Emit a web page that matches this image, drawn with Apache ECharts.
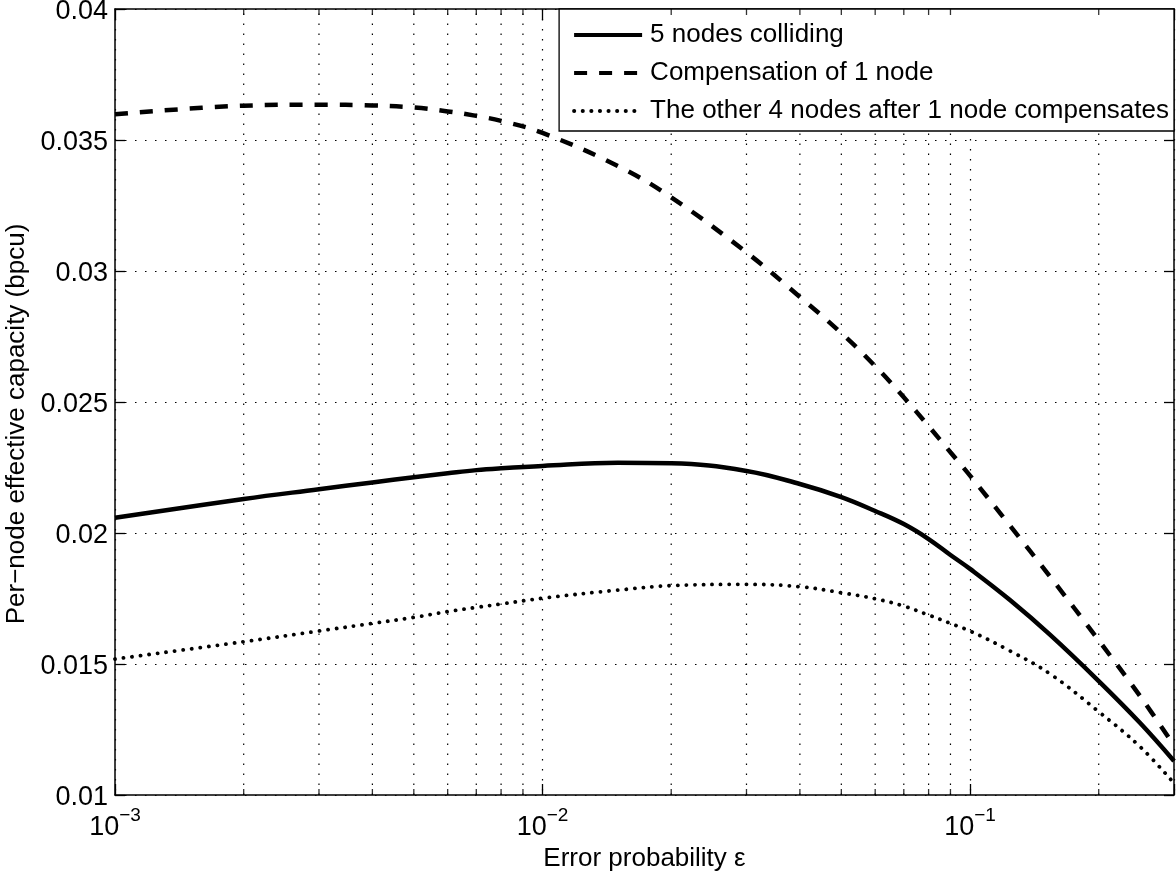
<!DOCTYPE html>
<html><head><meta charset="utf-8">
<script src="https://cdn.jsdelivr.net/npm/echarts@6/dist/echarts.min.js"></script>
<style>html,body{margin:0;padding:0;background:#fff}#c{width:1176px;height:874px}</style>
</head><body><div id="c"></div>
<script>
// ---- data ----
const eps = [0.001,0.002,0.003,0.004,0.005,0.006,0.007,0.008,0.01,0.015,0.02,0.03,0.04,0.05,0.06,0.07,0.08,0.09,0.1,0.124,0.154,0.2,0.25,0.3];
const colliding = [0.02058,0.0213,0.02167,0.02193,0.02213,0.02228,0.0224,0.02247,0.02256,0.02268,0.02266,0.02237,0.02187,0.02137,0.02084,0.02034,0.01977,0.01916,0.01863,0.01744,0.01611,0.01435,0.01275,0.0113];
const compensation = [0.03598,0.03631,0.03635,0.03632,0.03624,0.03609,0.03592,0.03573,0.03527,0.03401,0.03281,0.03071,0.02901,0.02763,0.02637,0.02518,0.02408,0.02308,0.02219,0.02028,0.01833,0.0159,0.01377,0.01189];
const others = [0.01519,0.01585,0.01626,0.01655,0.01678,0.017,0.01716,0.01729,0.01751,0.01782,0.01799,0.01804,0.01795,0.01772,0.01749,0.01721,0.01687,0.01655,0.01626,0.0155,0.01462,0.01318,0.01184,0.01045];
const seriesNames = ['5 nodes colliding','Compensation of 1 node','The other 4 nodes after 1 node compensates'];
const xTickValues = [0.001,0.01,0.1];
const xTickExps = ['−3','−2','−1'];
const xMinor = [0.002,0.003,0.004,0.005,0.006,0.007,0.008,0.009,0.02,0.03,0.04,0.05,0.06,0.07,0.08,0.09,0.2];
const xMin = 0.001, xMax = 0.3;
const yMin = 0.01, yMax = 0.04, yStep = 0.005;
const xName = 'Error probability ε';
const yName = 'Per−node effective capacity (bpcu)';

const FONT = '"Liberation Sans", Arial, Helvetica, sans-serif';
const zip = ys => eps.map((x,i)=>[x, ys[i]]);
const dotted = {type:[1.5,8.5], color:'#000', width:1.2};

function xFmt(v){
  for (let i=0;i<xTickValues.length;i++){
    if (Math.abs(Math.log10(v) - Math.log10(xTickValues[i])) < 1e-6) return '{b|10}{s|' + xTickExps[i] + '}';
  }
  return '';
}
function yFmt(v){ return '{v|' + String(parseFloat(Number(v).toFixed(4))) + '}'; }

const minorGridSeries = xMinor.map(v => ({
  name:'minor-grid-' + v, type:'line', silent:true, symbol:'none', z:1,
  data:[[v,yMin],[v,yMax]],
  lineStyle:{type:[1.5,8.5], color:'#000', width:1.2}
}));

const chart = echarts.init(document.getElementById('c'), null, {renderer:'canvas'});
chart.setOption({
  animation:false,
  backgroundColor:'#fff',
  textStyle:{fontFamily:FONT, color:'#000'},
  grid:{left:115, right:2, top:9, bottom:79, containLabel:false, outerBoundsMode:'none'},
  legend:{
    data:seriesNames, orient:'vertical', right:2, top:9,
    itemWidth:68, itemHeight:20, itemGap:12,
    padding:[13,5,7,13],
    backgroundColor:'#fff', borderColor:'#000', borderWidth:1.3,
    itemStyle:{opacity:0},
    lineStyle:{width:4},
    textStyle:{fontSize:26, color:'#000', fontFamily:FONT, padding:[0,0,0,3]},
    selectedMode:false
  },
  xAxis:[
    {type:'log', logBase:10, min:xMin, max:xMax, position:'bottom',
     axisLine:{lineStyle:{color:'#000', width:1.5}},
     axisTick:{inside:true, length:11, lineStyle:{color:'#000', width:1.3}},
     axisLabel:{formatter:xFmt, margin:19, color:'#000',
       rich:{b:{fontSize:27, lineHeight:27, fontFamily:FONT, color:'#000', verticalAlign:'bottom'},
             s:{fontSize:19, lineHeight:19, fontFamily:FONT, color:'#000', verticalAlign:'bottom', padding:[0,0,16,0]}}},
     splitLine:{show:true, lineStyle:dotted},
     name:xName, nameLocation:'middle', nameGap:48,
     nameTextStyle:{fontSize:26, color:'#000', fontFamily:FONT}},
    {type:'log', logBase:10, min:xMin, max:xMax, position:'top',
     axisLine:{lineStyle:{color:'#000', width:1.5}},
     axisTick:{inside:true, length:11, lineStyle:{color:'#000', width:1.3}},
     axisLabel:{show:false}, splitLine:{show:false}}
  ],
  yAxis:[
    {type:'value', min:yMin, max:yMax, interval:yStep, position:'left',
     axisLine:{lineStyle:{color:'#000', width:1.5}},
     axisTick:{inside:true, length:10, lineStyle:{color:'#000', width:1.3}},
     axisLabel:{formatter:yFmt, color:'#000', margin:7,
       rich:{v:{fontSize:27, lineHeight:27, fontFamily:FONT, color:'#000', padding:[5,0,0,0]}}},
     splitLine:{show:true, lineStyle:dotted},
     name:yName, nameLocation:'middle', nameGap:85,
     nameTextStyle:{fontSize:26, color:'#000', fontFamily:FONT, padding:[0,44,0,0]}},
    {type:'value', min:yMin, max:yMax, interval:yStep, position:'right',
     axisLine:{lineStyle:{color:'#000', width:1.5}},
     axisTick:{inside:true, length:10, lineStyle:{color:'#000', width:1.3}},
     axisLabel:{show:false}, splitLine:{show:false}}
  ],
  series:[
    ...minorGridSeries,
    {name:'minor-bottom', type:'scatter', silent:true, z:5,
     data:xMinor.map(v=>[v,yMin]), symbol:'rect', symbolSize:[1.3,6], symbolOffset:[0,-3],
     itemStyle:{color:'#000'}},
    {name:'minor-top', type:'scatter', silent:true, z:5,
     data:xMinor.map(v=>[v,yMax]), symbol:'rect', symbolSize:[1.3,6], symbolOffset:[0,3],
     itemStyle:{color:'#000'}},
    {name:seriesNames[0], type:'line', data:zip(colliding), smooth:0.4, symbol:'none', z:10,
     lineStyle:{color:'#000', width:4.5, type:'solid'}, itemStyle:{color:'#000'}},
    {name:seriesNames[1], type:'line', data:zip(compensation), smooth:0.4, symbol:'none', z:10,
     lineStyle:{color:'#000', width:4.5, type:[13,12]}, itemStyle:{color:'#000'}},
    {name:seriesNames[2], type:'line', data:zip(others), smooth:0.4, symbol:'none', z:10,
     lineStyle:{color:'#000', width:3.8, type:[0.1,8.5], cap:'round'}, itemStyle:{color:'#000'}}
  ]
});
</script></body></html>
